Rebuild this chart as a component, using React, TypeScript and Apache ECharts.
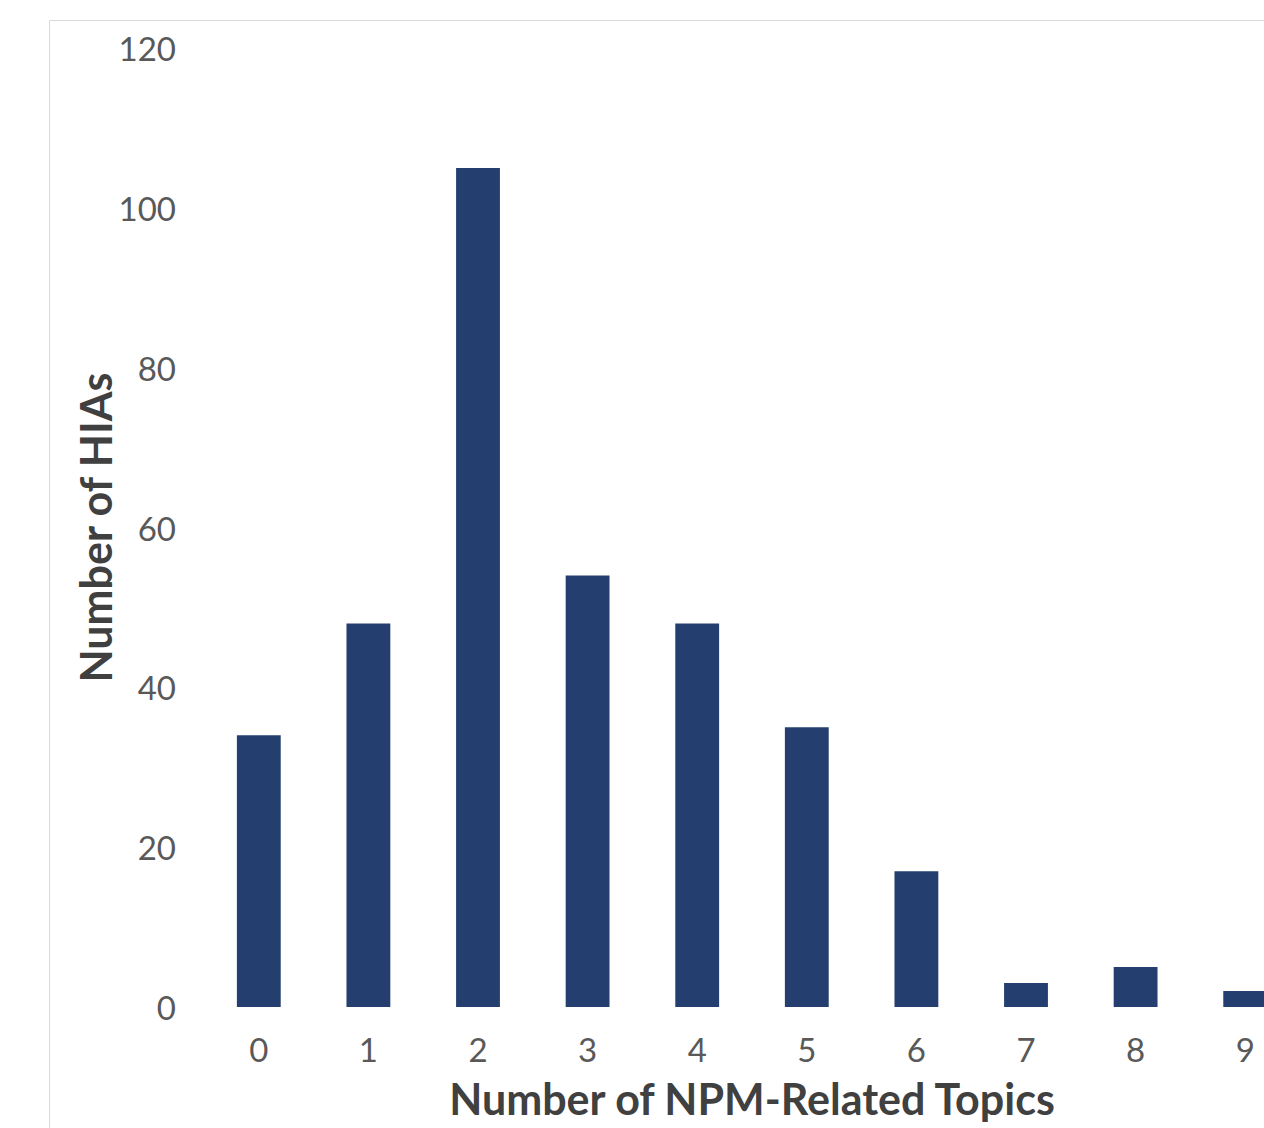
import React, { useEffect, useRef } from "react";
import * as echarts from "echarts";

const categories = ["0", "1", "2", "3", "4", "5", "6", "7", "8", "9"];
const hiaCounts = [34, 48, 105, 54, 48, 35, 17, 3, 5, 2];
const yTicks = { min: 0, max: 120, interval: 20 };
const xTitle = "Number of NPM-Related Topics";
const yTitle = "Number of HIAs";

export default function App() {
  const ref = useRef<HTMLDivElement>(null);
  useEffect(() => {
    if (!ref.current) return;
    const chart = echarts.init(ref.current, undefined, { renderer: "svg" });
    const font = "Lato, 'Noto Sans', sans-serif";
    chart.setOption({
      animation: false,
      backgroundColor: "#ffffff",
      textStyle: { fontFamily: font },
      graphic: [
        {
          type: "rect",
          shape: { x: 49.5, y: 20.5, width: 1400, height: 1200 },
          style: { fill: "none", stroke: "#d9d9d9", lineWidth: 1 },
          silent: true,
          z: -10,
        },
      ],
      grid: { left: 204, right: 100, top: 48, bottom: 121, containLabel: false },
      xAxis: {
        type: "category",
        data: categories,
        name: xTitle,
        nameLocation: "middle",
        nameGap: 70,
        nameMoveOverlap: false,
        nameTextStyle: { fontSize: 43, fontWeight: "bold", color: "#404040", fontFamily: font },
        axisLine: { show: false },
        axisTick: { show: false },
        axisLabel: { fontSize: 33, color: "#595959", margin: 25, fontFamily: font },
        splitLine: { show: false },
      },
      yAxis: {
        type: "value",
        min: yTicks.min,
        max: yTicks.max,
        interval: yTicks.interval,
        name: yTitle,
        nameLocation: "middle",
        nameGap: 87,
        nameMoveOverlap: false,
        nameTextStyle: { fontSize: 43, fontWeight: "bold", color: "#404040", fontFamily: font },
        axisLine: { show: false },
        axisTick: { show: false },
        axisLabel: { fontSize: 33, color: "#595959", margin: 28, fontFamily: font },
        splitLine: { show: false },
      },
      series: [
        {
          type: "bar",
          data: hiaCounts,
          barWidth: "40%",
          itemStyle: { color: "#243F6F" },
        },
      ],
    });
    return () => chart.dispose();
  }, []);
  return (
    <div style={{ position: "fixed", left: 0, top: 0, width: 1264, height: 1128, overflow: "hidden", background: "#fff" }}>
      <div ref={ref} style={{ width: 1400, height: 1128 }} />
    </div>
  );
}
